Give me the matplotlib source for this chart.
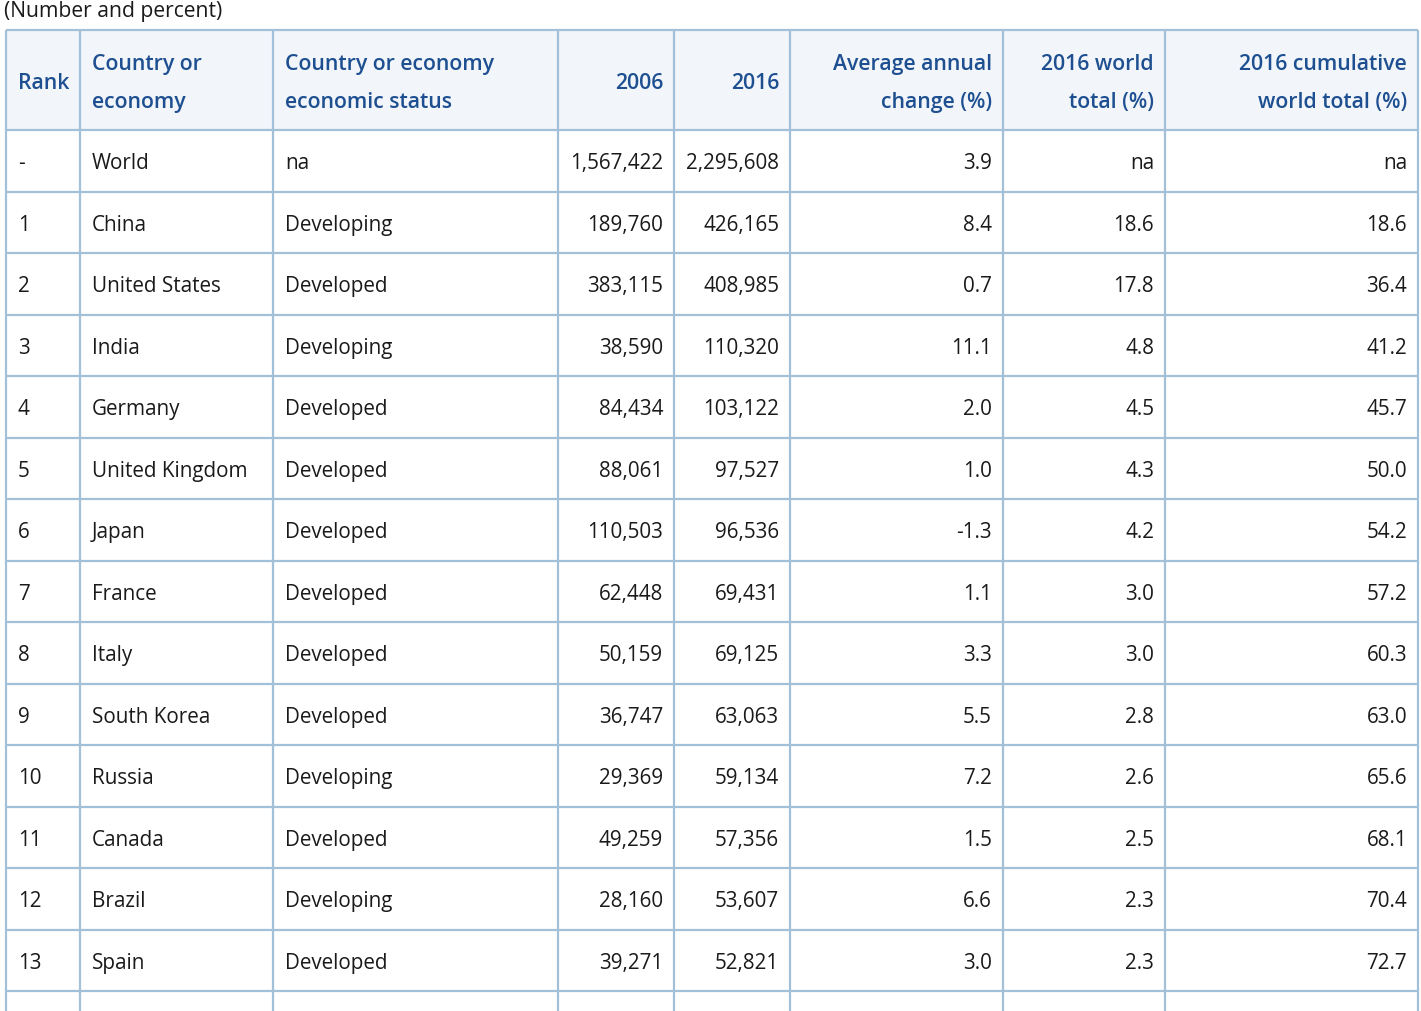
import matplotlib
matplotlib.use('Agg')
from matplotlib import pyplot as plt

# Dados da tabela
headers = ['Rank', 'Country or\neconomy', 'Country or economy\neconomic status', '2006', '2016',
           'Average annual\nchange (%)', '2016 world\ntotal (%)', '2016 cumulative\nworld total (%)']
ranks = ['-', '1', '2', '3', '4', '5', '6', '7', '8', '9', '10', '11', '12', '13']
countries = ['World', 'China', 'United States', 'India', 'Germany', 'United Kingdom', 'Japan',
             'France', 'Italy', 'South Korea', 'Russia', 'Canada', 'Brazil', 'Spain']
status = ['na', 'Developing', 'Developed', 'Developing', 'Developed', 'Developed', 'Developed',
          'Developed', 'Developed', 'Developed', 'Developing', 'Developed', 'Developing', 'Developed']
values2006 = ['1,567,422', '189,760', '383,115', '38,590', '84,434', '88,061', '110,503',
              '62,448', '50,159', '36,747', '29,369', '49,259', '28,160', '39,271']
values2016 = ['2,295,608', '426,165', '408,985', '110,320', '103,122', '97,527', '96,536',
              '69,431', '69,125', '63,063', '59,134', '57,356', '53,607', '52,821']
annualChange = ['3.9', '8.4', '0.7', '11.1', '2.0', '1.0', '-1.3', '1.1', '3.3', '5.5', '7.2', '1.5', '6.6', '3.0']
worldShare = ['na', '18.6', '17.8', '4.8', '4.5', '4.3', '4.2', '3.0', '3.0', '2.8', '2.6', '2.5', '2.3', '2.3']
cumulativeShare = ['na', '18.6', '36.4', '41.2', '45.7', '50.0', '54.2', '57.2', '60.3', '63.0',
                   '65.6', '68.1', '70.4', '72.7']

# Layout em pixels
W, H = 1421, 1012
colEdges = [6, 80, 273, 558, 674, 790, 1003, 1165, 1418]
alignRight = [False, False, False, True, True, True, True, True]
headTop, headBottom = 31, 131
rowH = 61.5

borderColor = '#a3c0d9'
headBg = '#f2f5f9'
headColor = '#1d4f91'
textColor = '#1a1a1a'

plt.rcParams['font.family'] = ['Open Sans', 'DejaVu Sans']

fig = plt.figure(figsize=(W / 100, H / 100), dpi=100)
ax = fig.add_axes([0, 0, 1, 1])
ax.set_xlim(0, W)
ax.set_ylim(H, 0)
ax.axis('off')

ax.text(4, 11, '(Number and percent)', fontsize=15.2, color=textColor, va='center', ha='left')

ax.fill_between([colEdges[0], colEdges[-1]], headTop, headBottom, color=headBg, lw=0)

padL, padR = 12, 11
for i, h in enumerate(headers):
    x = colEdges[i + 1] - padR if alignRight[i] else colEdges[i] + padL
    ax.text(x, (headTop + headBottom) / 2 + 2.5, h, fontsize=15.3, fontweight='semibold', color=headColor,
            ha='right' if alignRight[i] else 'left', va='center', linespacing=2.1)

columns = [ranks, countries, status, values2006, values2016, annualChange, worldShare, cumulativeShare]
nRows = len(ranks)
for r in range(nRows):
    yc = headBottom + rowH * (r + 0.5)
    for c, col in enumerate(columns):
        x = colEdges[c + 1] - padR if alignRight[c] else colEdges[c] + padL
        ax.text(x, yc + 2, col[r], fontsize=14.9, color=textColor,
                ha='right' if alignRight[c] else 'left', va='center')

# linhas horizontais
rowLines = [headTop, headBottom] + [headBottom + rowH * (r + 1) for r in range(nRows)]
for y in rowLines:
    ax.plot([colEdges[0], colEdges[-1]], [y, y], color=borderColor, lw=1.6, solid_capstyle='butt')
for x in colEdges:
    ax.plot([x, x], [headTop, H + 5], color=borderColor, lw=1.6, solid_capstyle='butt')

fig.savefig('out.png', dpi=100)
